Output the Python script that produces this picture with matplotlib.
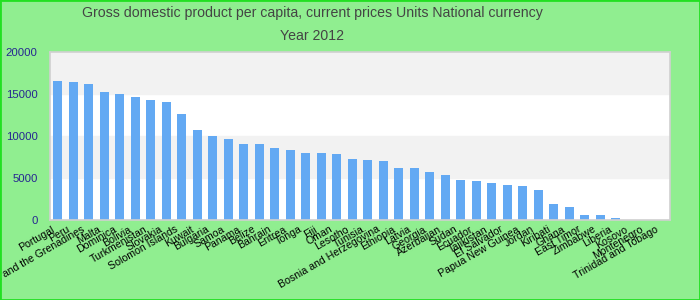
import matplotlib.pyplot as plt
from matplotlib.patches import Rectangle
import matplotlib.transforms as mtransforms

# Data (national currency, 2012)
countries = ['Portugal', 'Peru', 'Saint Vincent and the Grenadines', 'Malta', 'Dominica',
             'Bolivia', 'Turkmenistan', 'Slovakia', 'Solomon Islands', 'Kuwait',
             'Bulgaria', 'Samoa', 'Panama', 'Belize', 'Bahrain', 'Eritrea', 'Tonga',
             'Fiji', 'Oman', 'Lesotho', 'Tunisia', 'Bosnia and Herzegovina', 'Ethiopia',
             'Latvia', 'Georgia', 'Azerbaijan', 'Sudan', 'Ecuador', 'Tajikistan',
             'El Salvador', 'Papua New Guinea', 'Jordan', 'Kiribati', 'Ghana',
             'East Timor', 'Zimbabwe', 'Liberia', 'Kosovo', 'Montenegro',
             'Trinidad and Tobago']
gdp = [16510, 16400, 16160, 15210, 14970, 14610, 14260, 14020, 12590, 10690,
       9980, 9620, 9030, 9030, 8550, 8320, 7960, 7960, 7840, 7250,
       7130, 7010, 6180, 6180, 5700, 5350, 4750, 4630, 4400, 4160,
       4040, 3560, 1900, 1540, 590, 590, 240, 0, 0, 0]
y_ticks = [0, 5000, 10000, 15000, 20000]

plt.rcParams['font.family'] = ['Liberation Sans', 'DejaVu Sans']

fig = plt.figure(figsize=(7, 3), dpi=100, facecolor='#90ee90')
ax = fig.add_axes([50/700, 80/300, 620/700, 168.3/300])
ax.set_facecolor('white')

# alternating bands
ax.axhspan(5000, 10000, color='#f2f2f2', zorder=0)
ax.axhspan(15000, 20000, color='#f2f2f2', zorder=0)

x = range(len(countries))
ax.bar(x, gdp, width=0.58, color='#63a9f3', zorder=2)

ax.set_xlim(-0.5, len(countries) - 0.5)
ax.set_ylim(0, 20000)
ax.set_yticks(y_ticks)
ax.set_yticklabels([str(v) for v in y_ticks], color='#262690', fontsize=8.2)
ax.tick_params(axis='y', length=0, pad=9)

ax.set_xticks(list(x))
ax.set_xticklabels(countries, rotation=30, ha='right', va='top',
                   rotation_mode='anchor', fontsize=7.6, color='black')
ax.tick_params(axis='x', length=0, pad=3)
offset = mtransforms.ScaledTranslation(-7/100, 0, fig.dpi_scale_trans)
for lbl in ax.get_xticklabels():
    lbl.set_transform(lbl.get_transform() + offset)

for side in ['left', 'right', 'top', 'bottom']:
    ax.spines[side].set_color('#d0d0d0')
    ax.spines[side].set_linewidth(1.2)

fig.text(312/700, 1 - 13/300, 'Gross domestic product per capita, current prices Units National currency',
         ha='center', va='center', fontsize=10.2, color='#444444')
fig.text(312/700, 1 - 36/300, 'Year 2012', ha='center', va='center', fontsize=10.2, color='#444444')

fig.patches.append(Rectangle((0, 0), 1, 1, transform=fig.transFigure, fill=False,
                             edgecolor='#22e022', linewidth=2))

fig.savefig('out.png', dpi=100, facecolor=fig.get_facecolor())
